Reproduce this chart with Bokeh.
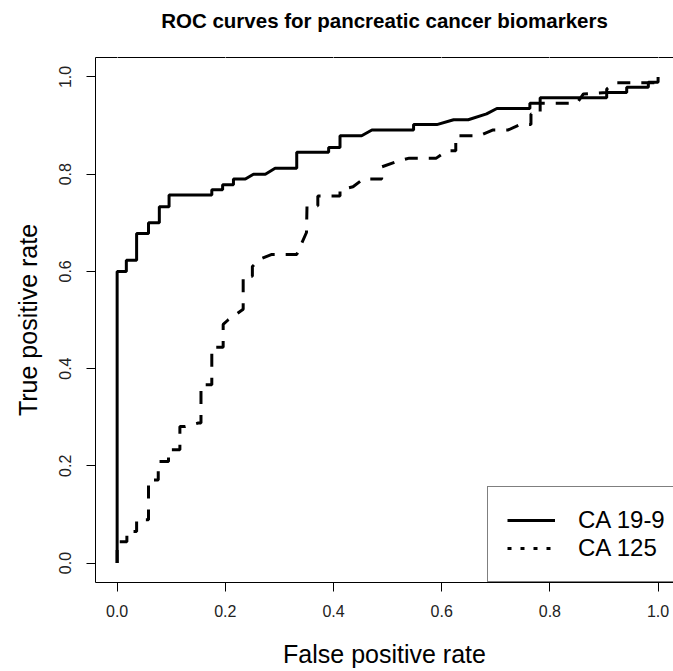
from bokeh.plotting import figure
from bokeh.models import (Range1d, FixedTicker, NumeralTickFormatter, Legend,
                          LegendItem, LinearAxis)
from bokeh.embed import file_html
from bokeh.resources import INLINE

title_text = "ROC curves for pancreatic cancer biomarkers"
x_label = "False positive rate"
y_label = "True positive rate"
tick_values = [0.0, 0.2, 0.4, 0.6, 0.8, 1.0]
series_names = ["CA 19-9", "CA 125"]

# CA 19-9 ROC curve vertices (false positive rate, true positive rate)
ca199_fpr = [0.0, 0.0, 0.017, 0.017, 0.036, 0.036, 0.058, 0.058, 0.078, 0.078,
             0.096, 0.096, 0.175, 0.175, 0.195, 0.195, 0.215, 0.215, 0.237, 0.252,
             0.274, 0.292, 0.332, 0.332, 0.391, 0.391, 0.412, 0.412, 0.452, 0.471,
             0.548, 0.548, 0.591, 0.622, 0.649, 0.683, 0.702, 0.763, 0.763, 0.782,
             0.782, 0.905, 0.905, 0.942, 0.942, 0.982, 0.982, 1.0, 1.0]
ca199_tpr = [0.0, 0.600, 0.600, 0.623, 0.623, 0.678, 0.678, 0.700, 0.700, 0.733,
             0.733, 0.757, 0.757, 0.768, 0.768, 0.778, 0.778, 0.790, 0.790, 0.800,
             0.800, 0.812, 0.812, 0.845, 0.845, 0.855, 0.855, 0.879, 0.879, 0.891,
             0.891, 0.902, 0.902, 0.912, 0.912, 0.924, 0.935, 0.935, 0.946, 0.946,
             0.957, 0.957, 0.968, 0.968, 0.979, 0.979, 0.989, 0.989, 1.0]

# CA 125 ROC curve vertices (false positive rate, true positive rate)
ca125_fpr = [0.0, 0.0, 0.018, 0.018, 0.036, 0.036, 0.058, 0.058, 0.076, 0.076,
             0.095, 0.095, 0.116, 0.116, 0.126, 0.150, 0.155, 0.155, 0.175, 0.175,
             0.196, 0.196, 0.205, 0.233, 0.233, 0.250, 0.250, 0.264, 0.286, 0.332,
             0.350, 0.351, 0.371, 0.371, 0.412, 0.412, 0.436, 0.455, 0.489, 0.489,
             0.520, 0.540, 0.590, 0.610, 0.626, 0.626, 0.670, 0.695, 0.723, 0.745,
             0.765, 0.765, 0.782, 0.782, 0.850, 0.862, 0.905, 0.905, 0.920, 1.0, 1.0]
ca125_tpr = [0.0, 0.044, 0.044, 0.065, 0.065, 0.089, 0.089, 0.171, 0.171, 0.209,
             0.209, 0.233, 0.233, 0.281, 0.281, 0.288, 0.288, 0.367, 0.367, 0.444,
             0.444, 0.491, 0.500, 0.522, 0.590, 0.590, 0.610, 0.625, 0.635, 0.635,
             0.680, 0.735, 0.735, 0.755, 0.755, 0.768, 0.774, 0.790, 0.790, 0.815,
             0.827, 0.833, 0.833, 0.848, 0.848, 0.879, 0.879, 0.891, 0.891, 0.902,
             0.902, 0.924, 0.924, 0.946, 0.946, 0.965, 0.968, 0.975, 0.988, 0.988, 1.0]

FONT = "Liberation Sans"

p = figure(width=673, height=671, output_backend="svg", toolbar_location=None,
           x_range=Range1d(-0.04, 1.0285), y_range=Range1d(-0.04, 1.04),
           min_border_left=95, min_border_right=0, min_border_top=57,
           min_border_bottom=89)

p.title.text = title_text
p.title.align = "center"
p.title.text_font = FONT
p.title.text_font_size = "20.5px"
p.title.text_font_style = "bold"
p.title.text_color = "black"
p.title.standoff = 10

p.grid.visible = False
p.outline_line_color = None
p.background_fill_color = "white"
p.border_fill_color = "white"

for ax in (p.xaxis[0], p.yaxis[0]):
    ax.ticker = FixedTicker(ticks=tick_values)
    ax.formatter = NumeralTickFormatter(format="0.0")
    ax.minor_tick_line_color = None
    ax.major_tick_in = 0
    ax.major_tick_out = 9
    ax.axis_line_color = "black"
    ax.major_tick_line_color = "black"
    ax.major_label_text_font = FONT
    ax.major_label_text_font_size = "16px"
    ax.major_label_text_color = "#222222"
    ax.axis_label_text_font = FONT
    ax.axis_label_text_font_size = "25px"
    ax.axis_label_text_font_style = "normal"
    ax.axis_label_text_color = "black"

p.xaxis.axis_label = x_label
p.yaxis.axis_label = y_label
p.xaxis.major_label_standoff = 13
p.xaxis.axis_label_standoff = 20
p.yaxis.major_label_standoff = 15
p.yaxis.axis_label_standoff = 15
p.yaxis.major_label_orientation = "vertical"

# top border of the box; its white (invisible) ticks reserve room below the title
top = LinearAxis(ticker=FixedTicker(ticks=tick_values), major_tick_out=21,
                 major_tick_in=0, major_tick_line_color="white",
                 minor_tick_line_color=None, minor_tick_out=0, minor_tick_in=0,
                 major_label_standoff=0, major_label_text_font_size="0px",
                 major_label_overrides={v: "" for v in tick_values},
                 axis_line_color="black")
p.add_layout(top, "above")

r1 = p.line(ca199_fpr, ca199_tpr, line_width=3, line_color="black")
r2 = p.line(ca125_fpr, ca125_tpr, line_width=3, line_color="black", line_dash="13 11")
# legend sample for CA 125 is dotted (key-only renderer, draws nothing in the plot)
r2_key = p.line(x=[float("nan")], y=[float("nan")], line_width=3,
                line_color="black", line_dash="4 9")

legend = Legend(items=[LegendItem(label=series_names[0], renderers=[r1]),
                       LegendItem(label=series_names[1], renderers=[r2_key])],
                location=(392, 0), padding=19, spacing=0, margin=0,
                glyph_width=48, glyph_height=26, label_height=26, label_standoff=23,
                label_text_font=FONT, label_text_font_size="24px",
                label_text_color="black",
                border_line_color="black", border_line_width=1,
                background_fill_color="white", background_fill_alpha=1.0)
p.add_layout(legend)

open("out.html", "w").write(file_html(p, INLINE))
